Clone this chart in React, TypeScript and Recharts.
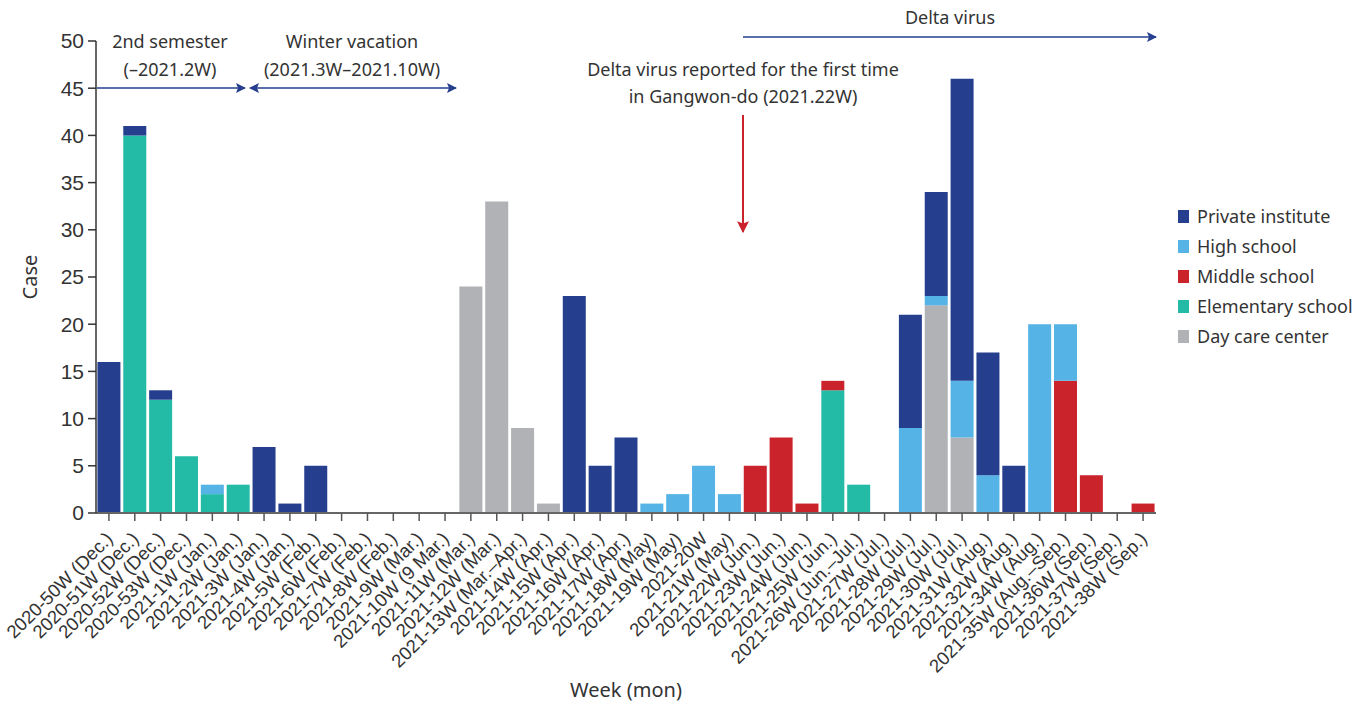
import React from 'react';
import { BarChart, Bar, XAxis, YAxis } from 'recharts';

const WEEKS = [
  '2020-50W (Dec.)', '2020-51W (Dec.)', '2020-52W (Dec.)', '2020-53W (Dec.)',
  '2021-1W (Jan.)', '2021-2W (Jan.)', '2021-3W (Jan.)', '2021-4W (Jan.)',
  '2021-5W (Feb.)', '2021-6W (Feb.)', '2021-7W (Feb.)', '2021-8W (Feb.)',
  '2021-9W (Mar.)', '2021-10W (9 Mar.)', '2021-11W (Mar.)', '2021-12W (Mar.)',
  '2021-13W (Mar.–Apr.)', '2021-14W (Apr.)', '2021-15W (Apr.)', '2021-16W (Apr.)',
  '2021-17W (Apr.)', '2021-18W (May)', '2021-19W (May)', '2021-20W',
  '2021-21W (May)', '2021-22W (Jun.)', '2021-23W (Jun.)', '2021-24W (Jun.)',
  '2021-25W (Jun.)', '2021-26W (Jun.–Jul.)', '2021-27W (Jul.)', '2021-28W (Jul.)',
  '2021-29W (Jul.)', '2021-30W (Jul.)', '2021-31W (Aug.)', '2021-32W (Aug.)',
  '2021-34W (Aug.)', '2021-35W (Aug.–Sep.)', '2021-36W (Sep.)', '2021-37W (Sep.)',
  '2021-38W (Sep.)',
];

const PRIVATE_INSTITUTE = [16, 1, 1, 0, 0, 0, 7, 1, 5, 0, 0, 0, 0, 0, 0, 0, 0, 0, 23, 5, 8, 0, 0, 0, 0, 0, 0, 0, 0, 0, 0, 12, 11, 32, 13, 5, 0, 0, 0, 0, 0];
const HIGH_SCHOOL = [0, 0, 0, 0, 1, 0, 0, 0, 0, 0, 0, 0, 0, 0, 0, 0, 0, 0, 0, 0, 0, 1, 2, 5, 2, 0, 0, 0, 0, 0, 0, 9, 1, 6, 4, 0, 20, 6, 0, 0, 0];
const MIDDLE_SCHOOL = [0, 0, 0, 0, 0, 0, 0, 0, 0, 0, 0, 0, 0, 0, 0, 0, 0, 0, 0, 0, 0, 0, 0, 0, 0, 5, 8, 1, 1, 0, 0, 0, 0, 0, 0, 0, 0, 14, 4, 0, 1];
const ELEMENTARY_SCHOOL = [0, 40, 12, 6, 2, 3, 0, 0, 0, 0, 0, 0, 0, 0, 0, 0, 0, 0, 0, 0, 0, 0, 0, 0, 0, 0, 0, 0, 13, 3, 0, 0, 0, 0, 0, 0, 0, 0, 0, 0, 0];
const DAY_CARE = [0, 0, 0, 0, 0, 0, 0, 0, 0, 0, 0, 0, 0, 0, 24, 33, 9, 1, 0, 0, 0, 0, 0, 0, 0, 0, 0, 0, 0, 0, 0, 0, 22, 8, 0, 0, 0, 0, 0, 0, 0];

const Y_TICKS = [0, 5, 10, 15, 20, 25, 30, 35, 40, 45, 50];

// legend order (top to bottom); stacked in reverse
const SERIES = [
  { key: 'pi', name: 'Private institute', color: '#253f8e' },
  { key: 'hs', name: 'High school', color: '#55b3e5' },
  { key: 'ms', name: 'Middle school', color: '#cb232c' },
  { key: 'es', name: 'Elementary school', color: '#23bba5' },
  { key: 'dc', name: 'Day care center', color: '#b1b2b6' },
];

const data = WEEKS.map((week, i) => ({
  week,
  pi: PRIVATE_INSTITUTE[i],
  hs: HIGH_SCHOOL[i],
  ms: MIDDLE_SCHOOL[i],
  es: ELEMENTARY_SCHOOL[i],
  dc: DAY_CARE[i],
}));

const TEXT = '#333333';
const ANNO_FONT = '"Noto Sans", "Open Sans", sans-serif';
const AXIS_FONT = '"Liberation Sans", Arial, sans-serif';

const WeekTick = (props: any) => {
  const { x, y, payload } = props;
  const tx = x + 5;
  const ty = y + 17;
  return (
    <text
      x={tx}
      y={ty}
      transform={`rotate(-45, ${tx}, ${ty})`}
      textAnchor="end"
      fontSize={18.5}
      fontFamily={AXIS_FONT}
      fill={TEXT}
    >
      {payload.value}
    </text>
  );
};

const Annotations = () => (
  <svg width={1370} height={705} style={{ position: 'absolute', left: 0, top: 0, pointerEvents: 'none' }}>
    <defs>
      <marker id="headBlue" viewBox="0 0 10 10" refX="9" refY="5" markerWidth="10" markerHeight="10" markerUnits="userSpaceOnUse" orient="auto-start-reverse">
        <path d="M0,0 L10,5 L0,10 L2,5 z" fill="#253f8e" />
      </marker>
      <marker id="headRed" viewBox="0 0 10 10" refX="9" refY="5" markerWidth="12" markerHeight="12" markerUnits="userSpaceOnUse" orient="auto">
        <path d="M0,0 L10,5 L0,10 L2,5 z" fill="#cb232c" />
      </marker>
    </defs>
    <g fontFamily={ANNO_FONT} fontSize={18} fill={TEXT} textAnchor="middle">
      <text x={170} y={48}>2nd semester</text>
      <text x={170} y={76}>(–2021.2W)</text>
      <text x={352} y={48}>Winter vacation</text>
      <text x={352} y={76}>(2021.3W–2021.10W)</text>
      <text x={950} y={24}>Delta virus</text>
      <text x={743} y={76}>Delta virus reported for the first time</text>
      <text x={743} y={103}>in Gangwon-do (2021.22W)</text>
    </g>
    <line x1={97} y1={88} x2={245} y2={88} stroke="#253f8e" strokeWidth={1.5} markerEnd="url(#headBlue)" />
    <line x1={250} y1={88} x2={456} y2={88} stroke="#253f8e" strokeWidth={1.5} markerStart="url(#headBlue)" markerEnd="url(#headBlue)" />
    <line x1={743} y1={37} x2={1156} y2={37} stroke="#253f8e" strokeWidth={1.5} markerEnd="url(#headBlue)" />
    <line x1={743} y1={115} x2={743} y2={232} stroke="#cb232c" strokeWidth={2} markerEnd="url(#headRed)" />
  </svg>
);

const LegendBox = () => (
  <div style={{ position: 'absolute', left: 1178, top: 201, fontFamily: ANNO_FONT, fontSize: 18, color: TEXT }}>
    {SERIES.map(s => (
      <div key={s.key} style={{ display: 'flex', alignItems: 'center', height: 30, whiteSpace: 'nowrap' }}>
        <span style={{ display: 'inline-block', width: 11, height: 13, background: s.color, marginRight: 8 }} />
        <span>{s.name}</span>
      </div>
    ))}
  </div>
);

export default function App() {
  const stackOrder = [...SERIES].reverse();
  return (
    <div style={{ position: 'absolute', left: 0, top: 0, width: 1370, height: 705, background: '#fff' }}>
      <BarChart
        width={1370}
        height={705}
        data={data}
        margin={{ top: 41, right: 214, bottom: 0, left: 0 }}
        barCategoryGap="5.5%"
      >
        <XAxis
          dataKey="week"
          interval={0}
          height={192}
          tick={<WeekTick />}
          tickSize={8}
          tickMargin={2}
          axisLine={{ stroke: '#666', strokeWidth: 2 }}
          tickLine={{ stroke: '#555', strokeWidth: 1.5 }}
          label={{ value: 'Week (mon)', position: 'insideBottom', offset: 8, fontSize: 20, fontFamily: ANNO_FONT, fill: TEXT }}
        />
        <YAxis
          width={96}
          domain={[0, 50]}
          ticks={Y_TICKS}
          interval={0}
          tickSize={8}
          tickMargin={4}
          tick={{ fontSize: 21, fontFamily: AXIS_FONT, fill: TEXT }}
          axisLine={{ stroke: '#333', strokeWidth: 1.5 }}
          tickLine={{ stroke: '#333', strokeWidth: 1.5 }}
          label={{ value: 'Case', angle: -90, position: 'insideLeft', offset: 30, fontSize: 20, fontFamily: ANNO_FONT, fill: TEXT, style: { textAnchor: 'middle' } }}
        />
        {stackOrder.map(s => (
          <Bar key={s.key} dataKey={s.key} name={s.name} stackId="a" fill={s.color} isAnimationActive={false} />
        ))}
      </BarChart>
      <Annotations />
      <LegendBox />
    </div>
  );
}
